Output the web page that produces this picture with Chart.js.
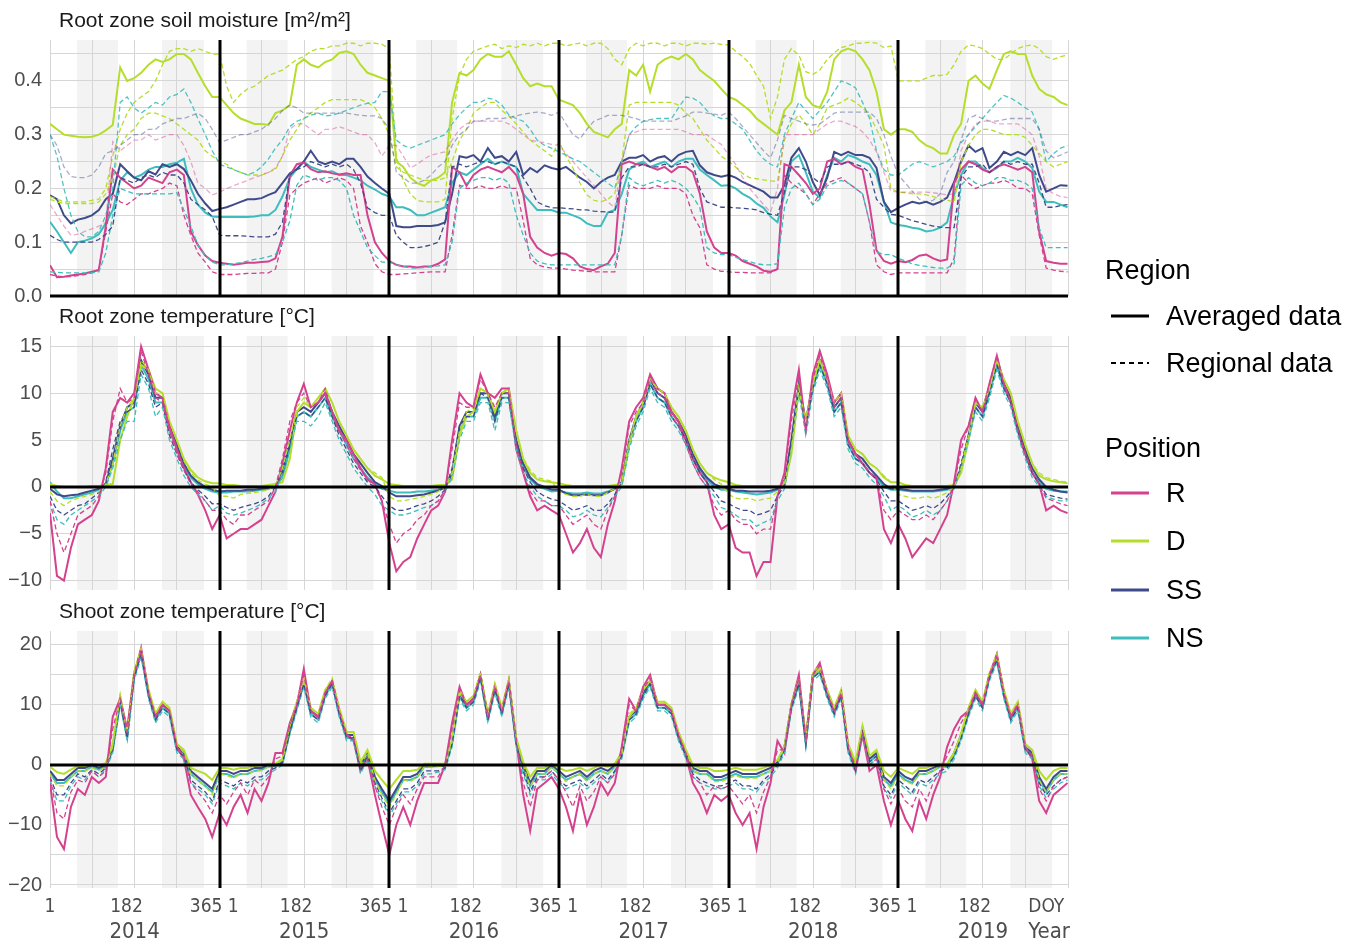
<!DOCTYPE html>
<html>
<head>
<meta charset="utf-8">
<script src="https://cdn.jsdelivr.net/npm/chart.js@4.4.1/dist/chart.umd.min.js"></script>
<style>
  body { margin: 0; background: #fff; }
  #wrap { position: relative; width: 1360px; height: 945px; font-family: "Liberation Sans", Arial, sans-serif; overflow: hidden; }
  canvas { position: absolute; left: 0; }
  .lg { position: absolute; font-size: 27px; line-height: 32px; color: #000; white-space: nowrap; }
  .lg svg { position: absolute; left: -56px; top: 13px; }
</style>
</head>
<body>
<div id="wrap">
  <canvas id="soil" width="1360" height="320" style="top:0"></canvas>
  <canvas id="root" width="1360" height="310" style="top:300px"></canvas>
  <canvas id="shoot" width="1360" height="350" style="top:595px"></canvas>

  <div class="lg" style="left:1105px; top:254px">Region</div>
  <div class="lg" style="left:1166px; top:300px"><svg width="40" height="6"><line x1="1" y1="3" x2="39" y2="3" stroke="#000" stroke-width="3"/></svg>Averaged data</div>
  <div class="lg" style="left:1166px; top:347px"><svg width="40" height="6"><line x1="1" y1="3" x2="39" y2="3" stroke="#000" stroke-width="2" stroke-dasharray="5 4"/></svg>Regional data</div>
  <div class="lg" style="left:1105px; top:432px">Position</div>
  <div class="lg" style="left:1166px; top:477px"><svg width="40" height="6"><line x1="1" y1="3" x2="39" y2="3" stroke="#d4418e" stroke-width="3"/></svg>R</div>
  <div class="lg" style="left:1166px; top:525px"><svg width="40" height="6"><line x1="1" y1="3" x2="39" y2="3" stroke="#b5de2b" stroke-width="3"/></svg>D</div>
  <div class="lg" style="left:1166px; top:574px"><svg width="40" height="6"><line x1="1" y1="3" x2="39" y2="3" stroke="#3e4a89" stroke-width="3"/></svg>SS</div>
  <div class="lg" style="left:1166px; top:622px"><svg width="40" height="6"><line x1="1" y1="3" x2="39" y2="3" stroke="#3dbdbd" stroke-width="3"/></svg>NS</div>
</div>
<script>
// sampling days (day of year) used for every year, one row per year in each series
const years = [2014, 2015, 2016, 2017, 2018, 2019];
const doys = [1, 16, 31, 46, 61, 76, 91, 106, 121, 136, 152, 167, 182, 197, 213, 228, 243, 258, 274, 289, 304, 319, 335, 350];
const seasonBands = [[58, 146], [241, 331]];
const quarterDays = [0, 91, 182, 273];

const colR = '#d4418e', colD = '#b5de2b', colSS = '#3e4a89', colNS = '#3dbdbd';

// ---- root zone soil moisture [m2/m2]
const smRavg = [
  [0.057,0.035,0.036,0.038,0.04,0.042,0.045,0.048,0.13,0.235,0.22,0.21,0.20,0.205,0.22,0.215,0.21,0.23,0.235,0.225,0.12,0.095,0.075,0.065],
  [0.062,0.06,0.058,0.06,0.062,0.062,0.063,0.064,0.07,0.11,0.224,0.245,0.248,0.236,0.23,0.232,0.228,0.226,0.228,0.225,0.225,0.15,0.1,0.08],
  [0.065,0.058,0.055,0.055,0.053,0.055,0.055,0.06,0.068,0.24,0.23,0.205,0.225,0.235,0.24,0.235,0.23,0.24,0.225,0.19,0.11,0.09,0.08,0.075],
  [0.08,0.078,0.07,0.055,0.05,0.048,0.055,0.06,0.08,0.245,0.25,0.245,0.245,0.24,0.235,0.24,0.23,0.24,0.24,0.23,0.19,0.12,0.09,0.08],
  [0.08,0.075,0.065,0.06,0.055,0.047,0.045,0.05,0.245,0.24,0.225,0.21,0.19,0.20,0.25,0.255,0.245,0.25,0.24,0.235,0.17,0.085,0.065,0.06],
  [0.065,0.063,0.067,0.075,0.077,0.07,0.065,0.068,0.21,0.235,0.25,0.245,0.235,0.23,0.24,0.245,0.24,0.235,0.24,0.23,0.12,0.065,0.062,0.06,0.06]
];
const smDavg = [
  [0.32,0.31,0.30,0.298,0.296,0.295,0.296,0.30,0.308,0.318,0.425,0.40,0.405,0.415,0.43,0.44,0.435,0.44,0.45,0.45,0.44,0.415,0.39,0.37],
  [0.37,0.355,0.34,0.33,0.325,0.32,0.32,0.318,0.34,0.345,0.355,0.43,0.44,0.43,0.425,0.435,0.44,0.452,0.455,0.45,0.43,0.415,0.41,0.405],
  [0.40,0.25,0.24,0.22,0.21,0.205,0.215,0.22,0.23,0.36,0.415,0.41,0.42,0.44,0.45,0.445,0.445,0.455,0.43,0.405,0.39,0.395,0.39,0.39],
  [0.365,0.36,0.355,0.34,0.32,0.305,0.30,0.295,0.31,0.32,0.42,0.41,0.43,0.38,0.43,0.44,0.445,0.44,0.45,0.44,0.42,0.41,0.40,0.385],
  [0.37,0.365,0.355,0.345,0.33,0.32,0.31,0.30,0.345,0.36,0.43,0.37,0.355,0.35,0.38,0.44,0.455,0.46,0.455,0.44,0.42,0.38,0.31,0.30],
  [0.31,0.31,0.305,0.29,0.28,0.275,0.265,0.265,0.30,0.32,0.40,0.41,0.395,0.385,0.42,0.45,0.455,0.45,0.45,0.41,0.385,0.375,0.37,0.36,0.355]
];
const smSSavg = [
  [0.187,0.18,0.15,0.135,0.142,0.145,0.15,0.16,0.18,0.19,0.245,0.232,0.22,0.215,0.232,0.226,0.245,0.24,0.245,0.236,0.215,0.19,0.172,0.158],
  [0.162,0.165,0.17,0.175,0.18,0.18,0.182,0.188,0.193,0.21,0.228,0.236,0.25,0.27,0.25,0.245,0.25,0.245,0.255,0.255,0.24,0.222,0.21,0.2],
  [0.19,0.13,0.128,0.128,0.13,0.13,0.13,0.132,0.137,0.19,0.26,0.257,0.262,0.25,0.275,0.257,0.26,0.25,0.268,0.225,0.238,0.23,0.243,0.238],
  [0.235,0.24,0.23,0.22,0.212,0.20,0.212,0.22,0.225,0.25,0.257,0.257,0.262,0.25,0.257,0.26,0.25,0.262,0.268,0.27,0.243,0.23,0.225,0.222],
  [0.225,0.22,0.212,0.206,0.20,0.194,0.183,0.183,0.206,0.257,0.275,0.25,0.212,0.188,0.22,0.268,0.262,0.268,0.262,0.262,0.257,0.238,0.175,0.156],
  [0.164,0.17,0.175,0.172,0.175,0.17,0.175,0.183,0.212,0.25,0.28,0.268,0.275,0.238,0.25,0.268,0.262,0.268,0.262,0.275,0.225,0.194,0.20,0.206,0.205]
];
const smNSavg = [
  [0.138,0.12,0.10,0.08,0.10,0.103,0.107,0.115,0.135,0.16,0.215,0.23,0.22,0.225,0.235,0.24,0.24,0.245,0.248,0.255,0.2,0.17,0.155,0.148],
  [0.147,0.147,0.147,0.147,0.147,0.148,0.15,0.15,0.16,0.185,0.22,0.236,0.25,0.24,0.235,0.23,0.232,0.225,0.225,0.22,0.215,0.205,0.198,0.19],
  [0.185,0.165,0.165,0.16,0.15,0.15,0.155,0.16,0.165,0.21,0.23,0.225,0.235,0.245,0.255,0.245,0.25,0.245,0.24,0.19,0.175,0.16,0.16,0.16],
  [0.155,0.155,0.15,0.145,0.135,0.13,0.13,0.155,0.16,0.19,0.235,0.245,0.25,0.24,0.245,0.25,0.24,0.25,0.255,0.255,0.235,0.225,0.215,0.205],
  [0.206,0.20,0.19,0.183,0.172,0.164,0.148,0.137,0.188,0.25,0.262,0.23,0.194,0.183,0.225,0.257,0.25,0.262,0.257,0.25,0.245,0.225,0.175,0.137],
  [0.132,0.13,0.127,0.125,0.12,0.122,0.127,0.137,0.188,0.225,0.25,0.25,0.238,0.23,0.238,0.25,0.25,0.257,0.25,0.238,0.194,0.175,0.175,0.17,0.165]
];
const smRregA = [
  [0.04,0.037,0.036,0.036,0.038,0.04,0.043,0.05,0.12,0.19,0.175,0.17,0.18,0.19,0.19,0.195,0.2,0.21,0.205,0.15,0.113,0.08,0.063,0.045],
  [0.04,0.04,0.04,0.041,0.042,0.042,0.043,0.043,0.05,0.1,0.188,0.2,0.21,0.215,0.22,0.21,0.215,0.22,0.215,0.2,0.13,0.1,0.06,0.045],
  [0.04,0.04,0.041,0.042,0.043,0.044,0.045,0.045,0.045,0.113,0.206,0.2,0.2,0.205,0.2,0.2,0.205,0.2,0.2,0.14,0.07,0.058,0.054,0.052],
  [0.052,0.05,0.048,0.047,0.046,0.045,0.045,0.045,0.045,0.113,0.206,0.2,0.2,0.2,0.205,0.2,0.2,0.2,0.19,0.15,0.127,0.058,0.05,0.046],
  [0.045,0.044,0.044,0.043,0.043,0.043,0.043,0.05,0.225,0.21,0.2,0.19,0.17,0.19,0.21,0.215,0.22,0.21,0.2,0.19,0.137,0.058,0.045,0.04],
  [0.043,0.043,0.043,0.043,0.043,0.043,0.043,0.043,0.07,0.225,0.21,0.2,0.205,0.21,0.21,0.215,0.21,0.2,0.2,0.19,0.113,0.052,0.048,0.046,0.045]
];
const smRregB = [
  [0.17,0.15,0.13,0.113,0.115,0.12,0.125,0.13,0.137,0.287,0.27,0.28,0.29,0.29,0.30,0.29,0.295,0.30,0.30,0.28,0.25,0.21,0.2,0.188],
  [0.193,0.2,0.205,0.21,0.215,0.22,0.225,0.23,0.238,0.26,0.31,0.32,0.32,0.31,0.30,0.31,0.31,0.315,0.31,0.305,0.30,0.30,0.285,0.26],
  [0.28,0.28,0.26,0.238,0.245,0.255,0.262,0.265,0.268,0.29,0.31,0.32,0.325,0.325,0.325,0.325,0.325,0.32,0.31,0.30,0.29,0.287,0.285,0.282],
  [0.28,0.265,0.25,0.235,0.22,0.206,0.19,0.175,0.164,0.25,0.30,0.305,0.31,0.31,0.31,0.31,0.31,0.31,0.305,0.30,0.30,0.30,0.29,0.282],
  [0.262,0.245,0.22,0.2,0.185,0.17,0.156,0.2,0.30,0.30,0.30,0.30,0.30,0.31,0.32,0.325,0.325,0.32,0.315,0.305,0.29,0.268,0.23,0.195],
  [0.193,0.193,0.193,0.193,0.193,0.192,0.19,0.188,0.19,0.27,0.30,0.32,0.325,0.325,0.32,0.32,0.32,0.32,0.31,0.30,0.26,0.2,0.19,0.185,0.183]
];
const smDregA = [
  [0.185,0.18,0.175,0.175,0.175,0.175,0.178,0.18,0.20,0.26,0.31,0.34,0.36,0.37,0.38,0.40,0.43,0.455,0.46,0.46,0.455,0.46,0.455,0.45],
  [0.45,0.39,0.36,0.375,0.385,0.39,0.40,0.41,0.415,0.42,0.43,0.44,0.445,0.455,0.46,0.46,0.465,0.465,0.47,0.47,0.465,0.47,0.47,0.468],
  [0.46,0.26,0.215,0.19,0.178,0.175,0.175,0.175,0.18,0.33,0.41,0.44,0.455,0.46,0.465,0.468,0.46,0.465,0.462,0.468,0.465,0.47,0.465,0.47],
  [0.47,0.465,0.468,0.47,0.465,0.47,0.47,0.46,0.44,0.43,0.46,0.47,0.465,0.47,0.47,0.465,0.47,0.47,0.465,0.47,0.47,0.468,0.47,0.468],
  [0.467,0.455,0.445,0.433,0.41,0.39,0.33,0.37,0.44,0.46,0.448,0.417,0.412,0.42,0.44,0.452,0.462,0.465,0.47,0.47,0.472,0.47,0.462,0.465],
  [0.40,0.40,0.40,0.40,0.405,0.41,0.41,0.412,0.43,0.455,0.467,0.465,0.46,0.45,0.44,0.44,0.45,0.46,0.465,0.467,0.46,0.445,0.44,0.445,0.448]
];
const smDregB = [
  [0.18,0.175,0.172,0.172,0.172,0.172,0.172,0.175,0.19,0.22,0.28,0.30,0.31,0.33,0.34,0.34,0.335,0.33,0.32,0.31,0.30,0.29,0.27,0.26],
  [0.25,0.245,0.235,0.23,0.225,0.225,0.225,0.23,0.235,0.26,0.29,0.31,0.33,0.34,0.35,0.36,0.365,0.365,0.365,0.365,0.365,0.36,0.35,0.33],
  [0.30,0.24,0.23,0.225,0.22,0.215,0.215,0.215,0.22,0.25,0.29,0.31,0.34,0.35,0.36,0.36,0.345,0.335,0.32,0.305,0.29,0.28,0.27,0.26],
  [0.287,0.26,0.238,0.21,0.188,0.178,0.175,0.18,0.19,0.25,0.355,0.36,0.36,0.36,0.36,0.36,0.36,0.355,0.34,0.33,0.31,0.29,0.275,0.26],
  [0.25,0.24,0.228,0.22,0.218,0.216,0.214,0.213,0.29,0.32,0.337,0.32,0.30,0.32,0.35,0.355,0.36,0.368,0.36,0.35,0.337,0.31,0.28,0.2],
  [0.193,0.192,0.19,0.19,0.188,0.185,0.18,0.178,0.175,0.25,0.28,0.30,0.31,0.31,0.305,0.30,0.30,0.30,0.295,0.28,0.265,0.25,0.24,0.245,0.25]
];
const smSSregA = [
  [0.113,0.105,0.10,0.10,0.10,0.10,0.10,0.105,0.115,0.13,0.22,0.215,0.21,0.22,0.225,0.22,0.23,0.225,0.225,0.21,0.18,0.17,0.16,0.148],
  [0.113,0.112,0.112,0.112,0.111,0.11,0.11,0.11,0.115,0.137,0.225,0.235,0.24,0.25,0.245,0.24,0.245,0.24,0.245,0.235,0.21,0.164,0.155,0.15],
  [0.15,0.113,0.1,0.09,0.09,0.092,0.095,0.1,0.137,0.24,0.245,0.24,0.245,0.25,0.25,0.245,0.25,0.245,0.24,0.22,0.2,0.175,0.168,0.164],
  [0.164,0.163,0.162,0.16,0.16,0.158,0.157,0.156,0.156,0.22,0.24,0.24,0.245,0.24,0.24,0.245,0.24,0.245,0.25,0.245,0.2,0.175,0.17,0.165],
  [0.165,0.164,0.163,0.162,0.16,0.155,0.152,0.15,0.193,0.24,0.24,0.235,0.22,0.21,0.24,0.245,0.245,0.25,0.245,0.24,0.23,0.18,0.165,0.152],
  [0.15,0.145,0.14,0.137,0.133,0.13,0.128,0.127,0.127,0.22,0.24,0.24,0.245,0.23,0.24,0.25,0.245,0.25,0.245,0.245,0.21,0.165,0.165,0.168,0.17]
];
const smSSregB = [
  [0.30,0.28,0.24,0.222,0.22,0.22,0.225,0.24,0.265,0.27,0.28,0.29,0.30,0.30,0.31,0.31,0.32,0.325,0.33,0.33,0.335,0.34,0.33,0.31],
  [0.285,0.29,0.295,0.30,0.30,0.305,0.31,0.32,0.33,0.345,0.355,0.35,0.34,0.34,0.34,0.34,0.34,0.34,0.34,0.338,0.336,0.335,0.335,0.33],
  [0.31,0.23,0.22,0.21,0.21,0.215,0.225,0.24,0.25,0.28,0.30,0.31,0.325,0.325,0.33,0.33,0.33,0.332,0.335,0.338,0.34,0.342,0.34,0.336],
  [0.342,0.32,0.30,0.292,0.31,0.325,0.33,0.336,0.336,0.336,0.333,0.33,0.325,0.325,0.325,0.325,0.325,0.33,0.335,0.342,0.342,0.34,0.338,0.336],
  [0.342,0.33,0.315,0.30,0.285,0.27,0.257,0.29,0.336,0.33,0.325,0.32,0.318,0.32,0.33,0.34,0.342,0.342,0.342,0.342,0.342,0.33,0.30,0.26],
  [0.225,0.21,0.195,0.18,0.175,0.178,0.19,0.23,0.25,0.29,0.33,0.336,0.33,0.325,0.325,0.328,0.33,0.33,0.33,0.33,0.31,0.27,0.257,0.262,0.268]
];
const smNSregA = [
  [0.30,0.26,0.20,0.15,0.12,0.11,0.11,0.12,0.15,0.20,0.36,0.37,0.35,0.34,0.35,0.36,0.355,0.37,0.375,0.385,0.36,0.33,0.30,0.27],
  [0.245,0.24,0.235,0.23,0.225,0.23,0.24,0.255,0.275,0.29,0.315,0.325,0.33,0.336,0.34,0.335,0.336,0.34,0.345,0.35,0.355,0.358,0.36,0.38],
  [0.38,0.29,0.28,0.275,0.28,0.285,0.29,0.295,0.30,0.32,0.337,0.35,0.36,0.36,0.368,0.365,0.355,0.337,0.33,0.325,0.31,0.29,0.28,0.275],
  [0.268,0.262,0.255,0.25,0.24,0.23,0.22,0.21,0.2,0.25,0.30,0.315,0.325,0.328,0.33,0.33,0.33,0.35,0.37,0.368,0.36,0.345,0.335,0.33],
  [0.33,0.32,0.31,0.29,0.27,0.255,0.245,0.24,0.30,0.33,0.36,0.345,0.33,0.345,0.36,0.38,0.40,0.395,0.387,0.36,0.33,0.27,0.235,0.225],
  [0.225,0.235,0.245,0.25,0.245,0.24,0.245,0.25,0.26,0.285,0.30,0.315,0.33,0.345,0.36,0.373,0.368,0.36,0.35,0.342,0.31,0.25,0.265,0.275,0.28]
];
const smNSregB = [
  [0.045,0.044,0.043,0.043,0.043,0.043,0.043,0.045,0.08,0.15,0.2,0.195,0.19,0.19,0.19,0.19,0.19,0.19,0.192,0.16,0.13,0.095,0.075,0.063],
  [0.058,0.058,0.06,0.062,0.065,0.068,0.07,0.073,0.077,0.1,0.14,0.206,0.225,0.22,0.215,0.22,0.22,0.215,0.2,0.15,0.12,0.09,0.075,0.063],
  [0.063,0.058,0.055,0.052,0.052,0.053,0.055,0.056,0.058,0.1,0.2,0.21,0.215,0.22,0.22,0.215,0.22,0.21,0.15,0.113,0.08,0.065,0.06,0.058],
  [0.058,0.058,0.058,0.058,0.058,0.058,0.058,0.058,0.058,0.113,0.22,0.21,0.205,0.21,0.215,0.21,0.215,0.21,0.2,0.185,0.164,0.09,0.08,0.077],
  [0.077,0.072,0.068,0.064,0.06,0.058,0.058,0.06,0.164,0.2,0.21,0.19,0.17,0.18,0.205,0.21,0.215,0.21,0.2,0.19,0.137,0.082,0.077,0.077],
  [0.07,0.065,0.06,0.057,0.055,0.053,0.052,0.052,0.06,0.206,0.22,0.21,0.205,0.21,0.22,0.22,0.215,0.215,0.21,0.2,0.127,0.09,0.09,0.09,0.09]
];

// ---- root zone temperature [°C]
const rtRavg = [
  [-2.8,-9.5,-10,-6.5,-4,-3.5,-3,-1.5,2,8,9.5,9,10,15,12.5,10,9.5,6.5,4,2,0.5,-0.8,-2.5,-4.5],
  [-3,-5.5,-5,-4.5,-4.5,-4,-3.5,-2,-0.5,2.5,6,9,11,8.5,9,10,8,6,5,3.5,2,0.8,0.3,-1.5],
  [-6,-9,-8,-7.5,-5.5,-4,-2.5,-2,-0.5,5,10,9,8.5,12,10,9.5,10.5,10.5,4,1.5,-1,-2.5,-2,-2.5],
  [-3,-5,-7,-6,-4.5,-6.5,-7.5,-4,-1.5,2,7,8.5,9.5,12,10.5,10,8,7,5,3,1.5,0.5,-3,-4.5],
  [-4,-6.5,-7,-7,-9.5,-8,-8,-1,1.5,8,12.5,6,12,14.5,12,9,10,5,3.5,2.5,1.5,1,-4.5,-6],
  [-4,-5.5,-7.5,-6.5,-5.5,-6,-4.5,-3,0.5,5,6.5,9.5,8,11,14,11,9,6,3.5,1.5,0.3,-2.5,-2,-2.5,-2.8]
];
const rtDavg = [
  [0.3,0.1,0,0,0,0,0.1,0.1,0.2,0.3,5,7.5,9.5,13,12.5,10.5,10,7,5,3,1.8,1,0.6,0.4],
  [0.4,0.2,0.2,0.1,0.1,0.1,0.1,0.2,0.3,0.5,3,8,9,8.5,9.5,10.5,9,7,5.5,4,3,2,1.2,0.8],
  [0.3,0.2,0.1,0.1,0.1,0.1,0.1,0.2,0.2,0.8,5.5,7.5,8,10.5,10,8,10,10.5,6,3,1.5,0.8,0.6,0.5],
  [0.4,0.2,0.1,0.1,0.1,0.1,0.1,0.1,0.2,0.3,4.5,7.5,9,11.5,10.5,10,8.5,7.5,6,4,2.5,1.5,1,0.7],
  [0.5,0.2,0.1,0.1,0.1,0.1,0.1,0.1,0.2,3.5,10.5,7,11,13.5,11.5,9,10,5.5,4,3.5,2.5,2,1,0.5],
  [0.5,0.2,0.1,0.1,0.1,0.1,0.1,0.1,0.2,1.5,5,9,8.5,10.5,13.5,11.5,10,7,4.5,2.5,1.2,0.8,0.6,0.5,0.4]
];
const rtSSavg = [
  [-0.2,-0.8,-1,-0.9,-0.8,-0.6,-0.4,-0.2,0.3,3,6.5,8.5,9,13.5,12,9.5,9.5,6.5,4.5,2.5,1.2,0.5,0,-0.3],
  [-0.5,-0.4,-0.4,-0.4,-0.3,-0.3,-0.2,-0.1,0,1.5,4.5,8,8.5,8,9,10,8,6.5,5,3.5,2.5,1.5,0.5,0.1],
  [-0.6,-1,-1,-1,-0.9,-0.8,-0.6,-0.4,-0.1,1.5,6.5,8,8,10,10,7.5,10,10,5,2.5,1,0.3,0,-0.3],
  [-0.3,-0.7,-0.9,-0.9,-0.8,-0.9,-0.9,-0.6,-0.2,0.5,5,7.5,9,11.5,10,9.5,8,7,5.5,3.5,2,1,0.3,0],
  [-0.2,-0.4,-0.4,-0.5,-0.5,-0.5,-0.4,-0.2,0.2,5,11,7,11,13.5,11.5,8.5,9.5,5,3.5,3,2,1.2,0.3,-0.2],
  [-0.2,-0.3,-0.4,-0.4,-0.4,-0.4,-0.3,-0.2,0.1,2,5.5,9,8,10.5,13.5,11,9.5,6.5,4,2,0.8,0,-0.3,-0.5,-0.6]
];
const rtNSavg = [
  [0.5,-0.5,-1.2,-1.2,-1,-0.8,-0.6,-0.3,0.2,2.5,6,8,8.5,13,11.5,9,9,6,4,2.2,1,0.3,-0.2,-0.5],
  [-0.6,-0.6,-0.5,-0.5,-0.5,-0.4,-0.3,-0.2,0,1,4,7.5,8,7.5,8.5,9.5,7.5,6,4.5,3,2,1,0.3,-0.2],
  [-0.4,-0.6,-0.6,-0.6,-0.5,-0.5,-0.4,-0.3,0,1.2,6,7.5,7.5,9.5,9.5,7,9.5,9.5,4.5,2,0.8,0.1,-0.2,-0.5],
  [-0.4,-0.6,-0.7,-0.7,-0.6,-0.7,-0.7,-0.5,-0.2,0.4,4.5,7,8.5,11,9.5,9,7.5,6.5,5,3,1.8,0.8,0,-0.3],
  [-0.3,-0.5,-0.6,-0.7,-0.8,-0.7,-0.6,-0.3,0,4.5,10.5,6.5,10.5,13,11,8,9,4.5,3,2.5,1.5,1,0,-0.3],
  [-0.3,-0.4,-0.5,-0.5,-0.5,-0.5,-0.4,-0.3,0,1.8,5,8.5,7.5,10,13,10.5,9,6,3.5,1.5,0.5,-0.2,-0.4,-0.5,-0.5]
];
const rtRreg = [
  [-1.5,-5,-7,-5,-3,-2.5,-2,-1,1.5,7,10.5,9,9.5,14.5,12,9.5,9,6,3.5,1.8,0.3,-0.5,-1.5,-2.5],
  [-2.5,-3.5,-4,-3,-3,-2.5,-2,-1.5,0,3,7,9,10,8.5,9,10.5,8,6,4.5,3,1.8,0.8,0,-1.5],
  [-4,-6,-5,-4.5,-3.5,-3,-2,-1.5,-0.3,4,9,8.5,8.5,11.5,10,8.5,10,10,4.5,1.5,-0.5,-1.5,-1.5,-2],
  [-2,-3,-4,-3.5,-3,-4,-4.5,-2.5,-1,1.5,6.5,8,9,11.5,10,9.5,7.5,6.5,4.5,2.5,1,0,-2,-3],
  [-2.5,-3.5,-4,-4,-5,-4.5,-4.5,-1,1,7,12,6,11.5,14,11.5,8.5,9.5,5,3.5,2.5,1.5,0.8,-2.5,-3.5],
  [-2.5,-3,-3.5,-3.5,-3,-3.5,-2.5,-1.5,0.3,4,6.5,9.5,8,11,14,11,9,6,3.5,1.5,0.3,-1.2,-1.5,-1.8,-2]
];
const rtDreg = [
  [-0.5,-1.5,-2,-1.5,-1.2,-1,-0.8,-0.5,0.3,2.5,6.5,8.5,9.5,13.5,12.5,10,10,7,5,2.8,1.5,0.7,0.3,0],
  [-1,-1,-1.2,-0.8,-0.7,-0.6,-0.5,-0.3,0.2,2,5,8.5,9.5,8.5,9.5,10.5,9,7,5.5,4,3,2,1.5,1],
  [-1,-1.5,-1.5,-1.3,-1.2,-1,-0.8,-0.5,0,1.5,6,8,8.5,10.5,10,8,10,10.5,6,3,1.8,1,0.8,0.6],
  [-0.5,-0.8,-1,-1,-0.8,-1,-1,-0.6,-0.2,0.5,5,7.5,9,11.5,10.5,10,8.5,7.5,6,4,2.5,1.5,0.8,0.3],
  [-0.8,-1.2,-1.3,-1.2,-1.5,-1.3,-1.2,-0.5,0.2,4,10.5,7,11,13.5,11.5,9,10,5.5,4,3.5,2.5,2,1.2,0.5],
  [-0.8,-1,-1.2,-1.2,-1,-1.2,-1,-0.6,0,2,5.5,9,8.5,10.5,13.5,11.5,10,7,4.5,2.5,1.5,1,0.8,0.6,0.5]
];
const rtSSreg = [
  [-1,-2.5,-3,-2.5,-2,-1.8,-1.2,-0.6,0.5,4,7,8,8.5,12.5,11,8.5,9,5.5,3.5,1.8,0.5,-0.3,-1,-1.8],
  [-1.8,-2.2,-2.5,-2.2,-2,-1.8,-1.5,-1,0,2,5,7.5,8,7.5,8.5,9.5,7.5,5.5,4,2.5,1.5,0.5,0,-1],
  [-2,-2.5,-2.5,-2.3,-2,-1.8,-1.5,-1,-0.3,2,6.5,7.5,7.5,10,9.5,7,9.5,9.5,4.5,2,0.5,-0.5,-1,-1.3],
  [-1.5,-2,-2.5,-2.3,-2,-2.5,-2.5,-1.8,-0.8,0.5,5,7,8.5,11,9.5,9,7.5,6.5,5,3,1.5,0.5,-0.5,-1.5],
  [-1.8,-2.2,-2.5,-2.5,-3,-2.8,-2.5,-1,0.2,5,10.5,6.5,10.5,13,11,8,9,4.5,3,2.5,1.5,0.8,-0.5,-1.5],
  [-1.5,-2,-2.5,-2.3,-2,-2.3,-1.8,-1,0,2.5,5.5,8.5,7.5,10,13,10.5,9,6,3.5,1.5,0.3,-0.8,-1,-1.2,-1.3]
];
const rtNSreg = [
  [-1.5,-3.5,-4,-3,-2.5,-2,-1.5,-1,0,2,5,7,7,12,10.5,7.5,8.5,5,3,1.2,0,-0.8,-1.5,-2.5],
  [-2,-2.8,-3,-2.8,-2.5,-2.2,-1.8,-1.2,-0.5,1.5,4,7,7,6.5,7.5,9,7,5,3.5,2,1,0,-0.8,-2],
  [-2.5,-3,-3,-2.8,-2.5,-2.2,-2,-1.5,-0.5,1,5,7,7,9,9,6,9,9,4,1.5,0,-1,-1.5,-2],
  [-2,-2.5,-3.2,-3,-2.5,-3,-3.2,-2.2,-1,0,4,6.5,8,10.5,9,8.5,7,6,4.5,2.5,1,0,-1,-2.2],
  [-2.5,-3,-3.5,-3.5,-4.2,-3.8,-3.5,-1.5,-0.2,4,10,5.5,10,12.5,10.5,7.5,8.5,4,2.5,2,1,0.2,-1,-2.5],
  [-2,-2.5,-3.2,-3,-2.5,-3,-2.5,-1.5,-0.2,2,5,8,7,9.5,12.5,10,8.5,5.5,3,1,0,-1,-1.3,-1.5,-1.5]
];

// ---- shoot zone temperature [°C]
const stRavg = [
  [-3,-12,-14,-7,-4,-5,-2,-3,-2,8,11,6,15,19.5,12,8,10,9,3,1,-5,-7,-9,-12],
  [-8,-10,-7,-5,-8,-4,-6,-3,2,2,7,10,16,9,8,12,14,9,5,4,-1,1,-5,-10],
  [-15,-10,-7,-10,-6,-3,-3,-3,0,7,13,10,11,15,8,13,9,14,4,-5,-11,-4,-3,-2],
  [-4,-7,-11,-5,-10,-7,-3,-5,-3,3,11,9,13,15,10,10,9,5,1.5,-3,-5,-8,-5,-6],
  [-5,-8,-10,-8,-14,-7,-3,4,2,10,15,4,15,17,12,9,12,3,-1,5,-1,0,-6,-10],
  [-6,-9,-11,-6,-9,-5,-2,3,6,8,9,12,10,15,18.5,12,8,10,3,1,-6,-8,-5,-4,-3]
];
const stDavg = [
  [-0.3,-1.2,-1.5,-0.8,-0.2,-0.2,0.2,0,0.3,3.5,11.5,5.5,15.5,19,12.5,8.5,10.5,9.5,3.5,2.5,-0.5,-1,-1.5,-2.5],
  [-0.5,-0.5,-0.8,-0.5,-0.5,-0.2,0,0.2,0.2,1,6.5,10.5,14,9.5,8.5,12.5,14,9.5,5.5,5.5,0.5,2.5,-1,-2.5],
  [-4,-2.5,-1,-1,-0.8,0.2,0.2,0.2,0.2,4,12,10.5,11.5,15,8.5,13.5,9.5,14,4.5,0.5,-2,-0.5,-0.5,0.2],
  [-0.5,-1,-0.8,-0.5,-1,-0.5,0,-0.3,0.2,2,8,9.5,12.5,14,10.5,10.5,9.5,5.5,2.5,0,-0.5,-0.5,-1,-1],
  [-0.8,-0.5,-0.8,-0.8,-0.8,-0.5,0,0.8,3,10,14.5,4.5,15,16,12.5,9.5,12.5,3.5,0.5,6.5,1.5,2.5,-1,-2],
  [-0.5,-1,-1.5,-0.5,-0.5,0,0.2,0.2,2,5,9.5,12.5,10.5,15,18,12.5,8.5,10.5,3.5,2.5,-1,-2.5,-1,-0.5,-0.5]
];
const stSSavg = [
  [-1,-2.5,-2.5,-1.5,-0.5,-0.5,0,-0.5,0,3,11,5,15,19,12,8,10,9,3,2,-1,-2,-3,-4],
  [-1,-1,-1.5,-1,-1,-0.5,-0.5,0,0,0.5,6,10,14,9,8,12,14,9,5,5,0,2,-2,-4],
  [-6,-4,-2,-2,-1.5,0,0,0,0,4,12,10,11,15,8,13,9,14,4,0,-3,-1,-1,0],
  [-1,-2,-1.5,-1,-2,-1,-0.5,-1,0,2,8,9,12,14,10,10,9,5,2,-0.5,-1,-1,-2,-2],
  [-1.5,-1,-1.5,-1.5,-1.5,-1,-0.5,0.5,3,10,14,4,15,16,12,9,12,3,0,6,1,2,-2,-3],
  [-1,-2,-2.5,-1,-1,-0.5,0,0,2,5,9,12,10,15,18,12,8,10,3,2,-2,-4,-2,-1,-1]
];
const stNSavg = [
  [-1.5,-3,-3,-2,-1,-1,-0.3,-0.8,-0.3,2.5,10.5,4.5,14.5,18.5,11.5,7.5,9.5,8.5,2.5,1.5,-1.5,-2.5,-3.5,-4.5],
  [-1.5,-1.5,-2,-1.5,-1.5,-1,-0.8,-0.3,-0.2,0.3,5.5,9.5,13.5,8.5,7.5,11.5,13.5,8.5,4.5,4.5,-0.5,1.5,-2.5,-4.5],
  [-6.5,-4.5,-2.5,-2.5,-2,-0.3,-0.3,-0.2,-0.2,3.5,11.5,9.5,10.5,14.5,7.5,12.5,8.5,13.5,3.5,-0.5,-3.5,-1.5,-1.5,-0.3],
  [-1.5,-2.5,-2,-1.5,-2.5,-1.5,-1,-1.5,-0.3,1.5,7.5,8.5,11.5,13.5,9.5,9.5,8.5,4.5,1.5,-1,-1.5,-1.5,-2.5,-2.5],
  [-2,-1.5,-2,-2,-2,-1.5,-1,0.2,2.5,9.5,13.5,3.5,14.5,15.5,11.5,8.5,11.5,2.5,-0.5,5.5,0.5,1.5,-2.5,-3.5],
  [-1.5,-2.5,-3,-1.5,-1.5,-1,-0.3,-0.3,1.5,4.5,8.5,11.5,9.5,14.5,17.5,11.5,7.5,9.5,2.5,1.5,-2.5,-4.5,-2.5,-1.5,-1.5]
];
const stRreg = [
  [-2,-8,-9,-4.5,-2.5,-3,-1,-2,-1,6,11,5.5,15,19,12,8,10,9,3,1.5,-3,-4.5,-6,-8],
  [-5,-6.5,-4.5,-3,-5,-2.5,-3.5,-2,1,1.5,6.5,10,15,9,8,12,14,9,5,4.5,-0.5,1,-3.5,-7],
  [-10,-7,-5,-6.5,-4,-2,-2,-2,0,6,12.5,10,11,15,8,13,9,14,4,-3,-7,-2.5,-2,-1],
  [-2.5,-4.5,-7,-3.5,-6,-4.5,-2,-3,-1.5,2.5,10,9,12.5,14.5,10,10,9,5,2,-2,-3,-5,-3.5,-4],
  [-3.5,-5,-6.5,-5,-8,-4.5,-2,2.5,2.5,10,14.5,4,15,16.5,12,9,12,3,-0.5,5.5,0,1,-4,-6.5],
  [-4,-6,-7,-4,-6,-3,-1,1.5,4,7,9,12,10,15,18,12,8,10,3,1.5,-4,-6,-3.5,-2.5,-2]
];
const stDreg = [
  [-1.5,-3.5,-3.5,-2,-1,-1,-0.5,-1,-0.3,3,11.5,5.5,15.5,19.5,12.5,8.5,10.5,9.5,3.5,2,-1.5,-2.5,-3.5,-5],
  [-1.5,-1.8,-2.2,-1.5,-1.5,-1,-1,-0.3,0,0.8,6.5,10.5,14.5,9.5,8.5,12.5,14.5,9.5,5.5,5.5,0,2,-2.5,-5],
  [-7,-5,-2.5,-2.8,-2,-0.3,-0.3,-0.3,-0.2,4.5,12.5,10.5,11.5,15.5,8.5,13.5,9.5,14.5,4.5,0,-3.5,-1.5,-1.5,-0.3],
  [-1.5,-2.8,-2,-1.5,-2.8,-1.5,-1,-1.5,-0.3,2,8.5,9.5,12.5,14.5,10.5,10.5,9.5,5.5,2.5,-1,-1.5,-1.5,-2.8,-2.8],
  [-2.2,-1.8,-2.2,-2.2,-2.2,-1.5,-1,0.3,3,10.5,14.5,4.5,15.5,16.5,12.5,9.5,12.5,3.5,0,6.5,1.5,2.5,-2.5,-4],
  [-1.8,-2.8,-3.2,-1.5,-1.5,-1,-0.3,-0.3,2,5.5,9.5,12.5,10.5,15.5,18.5,12.5,8.5,10.5,3.5,2.5,-2.5,-4.5,-2.5,-1.5,-1.5]
];
const stSSreg = [
  [-2,-5,-5,-3,-1.5,-2,-0.8,-1.5,-0.5,2.5,10.5,4.5,14.5,18.5,11.5,7.5,9.5,8.5,2.5,1.5,-2.5,-3.5,-4.5,-6],
  [-2.5,-3,-3.5,-2.5,-3,-2,-2,-1,-0.5,0.3,5.5,9.5,13.5,8.5,7.5,11.5,13.5,8.5,4.5,4.5,-1,1.5,-3,-5.5],
  [-8,-6,-4,-4,-3,-1,-1,-1,-0.5,3.5,11.5,9.5,10.5,14.5,7.5,12.5,8.5,13.5,3.5,-1,-4.5,-2,-2,-1],
  [-2.5,-3.5,-3,-2.5,-3.5,-2.5,-1.5,-2.5,-1,1.5,7.5,8.5,11.5,13.5,9.5,9.5,8.5,4.5,1.5,-1.5,-2.5,-3,-3.5,-3.5],
  [-3,-2.5,-3.5,-3.5,-4,-2.5,-1.5,0,2.5,9.5,13.5,3.5,14.5,15.5,11.5,8.5,11.5,2.5,-1,5.5,0.5,1.5,-3.5,-5],
  [-2.5,-3.5,-4.5,-2.5,-3,-2,-1,-0.5,1.5,4.5,8.5,11.5,9.5,14.5,17.5,11.5,7.5,9.5,2.5,1.5,-3,-5,-3.5,-2.5,-2]
];
const stNSreg = [
  [-2.5,-6,-6,-3.5,-2,-2.5,-1,-2,-0.8,2,10,4,14,18,11,7,9,8,2,1,-3,-4,-5,-6.5],
  [-3,-3.5,-4,-3,-3.5,-2.5,-2.5,-1.5,-0.8,0,5,9,13,8,7,11,13,8,4,4,-1.5,1,-3.5,-6],
  [-8.5,-6.5,-4.5,-4.5,-3.5,-1.5,-1.5,-1.2,-0.8,3,11,9,10,14,7,12,8,13,3,-1.5,-5,-2.5,-2.5,-1.5],
  [-3,-4,-3.5,-3,-4,-3,-2,-3,-1.2,1,7,8,11,13,9,9,8,4,1,-2,-3,-3.5,-4,-4],
  [-3.5,-3,-4,-4,-4.5,-3,-2,-0.5,2,9,13,3,14,15,11,8,11,2,-1.5,5,0,1,-4,-5.5],
  [-3,-4,-5,-3,-3.5,-2.5,-1.5,-1,1,4,8,11,9,14,17,11,7,9,2,1,-3.5,-5.5,-4,-3,-2.5]
];

// ---- axis ticks
const soilTicks = [0, 0.05, 0.1, 0.15, 0.2, 0.25, 0.3, 0.35, 0.4, 0.45];
const soilLabels = [0, 0.1, 0.2, 0.3, 0.4];
const rootTicks = [-10, -7.5, -5, -2.5, 0, 2.5, 5, 7.5, 10, 12.5, 15];
const rootLabels = [-10, -5, 0, 5, 10, 15];
const shootTicks = [-20, -15, -10, -5, 0, 5, 10, 15, 20];
const shootLabels = [-20, -10, 0, 10, 20];

const YEAR = 365;
const xEnd = years.length * YEAR;

function toPoints(rows) {
  const pts = [];
  rows.forEach((row, k) => row.forEach((v, i) => {
    const d = i < doys.length ? doys[i] - 1 : YEAR - 1;
    pts.push({ x: k * YEAR + d, y: v });
  }));
  return pts;
}

function alpha(hex, a) {
  const n = parseInt(hex.slice(1), 16);
  return `rgba(${n >> 16},${(n >> 8) & 255},${n & 255},${a})`;
}

function avg(rows, color) {
  return { data: toPoints(rows), borderColor: color, borderWidth: 2, pointRadius: 0, tension: 0 };
}
function reg(rows, color, a = 1) {
  return { data: toPoints(rows), borderColor: alpha(color, a), borderWidth: 1.3, borderDash: [5, 3], pointRadius: 0, tension: 0 };
}

const xTickVals = [];
years.forEach((y, k) => quarterDays.forEach(q => xTickVals.push(k * YEAR + q)));
xTickVals.push(xEnd);

const minus = s => String(s).replace('-', '\u2212');

const bands = {
  id: 'bands',
  beforeDraw(chart) {
    const { ctx, chartArea: a, scales: { x } } = chart;
    ctx.save();
    ctx.fillStyle = '#f3f3f3';
    years.forEach((y, k) => seasonBands.forEach(([s, e]) => {
      const x0 = x.getPixelForValue(k * YEAR + s), x1 = x.getPixelForValue(k * YEAR + e);
      ctx.fillRect(x0, a.top, x1 - x0, a.bottom - a.top);
    }));
    ctx.restore();
  }
};

const blackLines = {
  id: 'blackLines',
  afterDatasetsDraw(chart) {
    const { ctx, chartArea: a, scales: { x, y } } = chart;
    ctx.save();
    ctx.strokeStyle = '#000';
    ctx.lineWidth = 3;
    ctx.beginPath();
    for (let k = 1; k < years.length; k++) {
      const px = Math.round(x.getPixelForValue(k * YEAR));
      ctx.moveTo(px, a.top);
      ctx.lineTo(px, a.bottom);
    }
    const py = Math.round(y.getPixelForValue(0));
    ctx.moveTo(a.left, py);
    ctx.lineTo(a.right, py);
    ctx.stroke();
    ctx.restore();
  }
};

const panelTitle = {
  id: 'panelTitle',
  afterDraw(chart, args, opts) {
    const { ctx, chartArea: a } = chart;
    ctx.save();
    ctx.font = '21px "Liberation Sans", Arial, sans-serif';
    ctx.fillStyle = '#1a1a1a';
    ctx.textBaseline = 'alphabetic';
    ctx.fillText(opts.text, a.left + 9, a.top - 13);
    ctx.restore();
  }
};

// trailing spaces nudge the centred labels left, as in the original
function xLabel(v) {
  if (v === 0) return '1';
  if (v === xEnd) return 'DOY        ';
  const k = Math.floor(v / YEAR), d = v - k * YEAR;
  if (d === 0) return '365 1  ';
  if (d === 182) return '182   ';
  return '';
}
function yearLabel(v) {
  if (v === xEnd) return 'Year      ';
  const k = Math.floor(v / YEAR);
  return v - k * YEAR === 182 ? String(years[k]) : '';
}

function makePanel(id, title, datasets, yMin, yMax, yTicks, yLabels, fmt, pad, showX) {
  const scales = {
    x: {
      type: 'linear', min: 0, max: xEnd, weight: 0,
      afterBuildTicks: ax => { ax.ticks = xTickVals.map(v => ({ value: v })); },
      afterFit: s => { s.height = showX ? 30 : 0; },
      grid: { color: '#d6d6d6', lineWidth: 1, drawTicks: false },
      border: { display: false },
      ticks: {
        display: showX, autoSkip: false, maxRotation: 0, padding: 8, color: '#4d4d4d',
        font: { family: '"Liberation Sans Narrow", "DejaVu Sans Condensed", sans-serif', size: 19 },
        callback: v => xLabel(v)
      }
    },
    y: {
      min: yMin, max: yMax,
      afterBuildTicks: ax => { ax.ticks = yTicks.map(v => ({ value: v })); },
      afterFit: s => { s.width = 50; },
      grid: { color: '#d6d6d6', lineWidth: 1, drawTicks: false },
      border: { display: false },
      ticks: {
        padding: 8, color: '#4d4d4d',
        font: { family: '"Liberation Sans", Arial, sans-serif', size: 20 },
        callback: v => yLabels.some(l => Math.abs(l - v) < 1e-9) ? minus(fmt(v)) : ''
      }
    }
  };
  if (showX) {
    scales.x2 = {
      type: 'linear', position: 'bottom', min: 0, max: xEnd, weight: 1,
      afterBuildTicks: ax => { ax.ticks = xTickVals.map(v => ({ value: v })); },
      afterFit: s => { s.height = 27; },
      grid: { display: false, drawTicks: false },
      border: { display: false },
      ticks: {
        autoSkip: false, maxRotation: 0, padding: 1, color: '#4d4d4d',
        font: { family: '"Liberation Sans Narrow", "DejaVu Sans Condensed", sans-serif', size: 22 },
        callback: v => yearLabel(v)
      }
    };
  }
  return new Chart(document.getElementById(id), {
    type: 'line',
    data: { datasets },
    plugins: [bands, blackLines, panelTitle],
    options: {
      responsive: false,
      animation: false,
      events: [],
      layout: { autoPadding: false, padding: { top: pad[0], right: 292, bottom: pad[1], left: 0 } },
      plugins: { legend: { display: false }, tooltip: { enabled: false }, panelTitle: { text: title } },
      scales
    }
  });
}

makePanel('soil', 'Root zone soil moisture [m\u00b2/m\u00b2]', [
  reg(smRregB, colR, 0.45), reg(smSSregB, colSS, 0.45),
  reg(smNSregA, colNS, 0.9), reg(smDregB, colD),
  reg(smDregA, colD), reg(smSSregA, colSS), reg(smNSregB, colNS), reg(smRregA, colR),
  avg(smRavg, colR), avg(smDavg, colD), avg(smSSavg, colSS), avg(smNSavg, colNS)
], 0, 0.476, soilTicks, soilLabels, v => v.toFixed(1), [40, 24], false);

makePanel('root', 'Root zone temperature [\u00b0C]', [
  reg(rtRreg, colR), reg(rtDreg, colD), reg(rtSSreg, colSS), reg(rtNSreg, colNS),
  avg(rtRavg, colR), avg(rtDavg, colD), avg(rtSSavg, colSS), avg(rtNSavg, colNS)
], -11, 16.1, rootTicks, rootLabels, v => String(v), [36, 20], false);

makePanel('shoot', 'Shoot zone temperature [\u00b0C]', [
  reg(stRreg, colR), reg(stDreg, colD), reg(stSSreg, colSS), reg(stNSreg, colNS),
  avg(stRavg, colR), avg(stDavg, colD), avg(stSSavg, colSS), avg(stNSavg, colNS)
], -20.5, 22.3, shootTicks, shootLabels, v => String(v), [36, 0], true);
</script>
</body>
</html>
